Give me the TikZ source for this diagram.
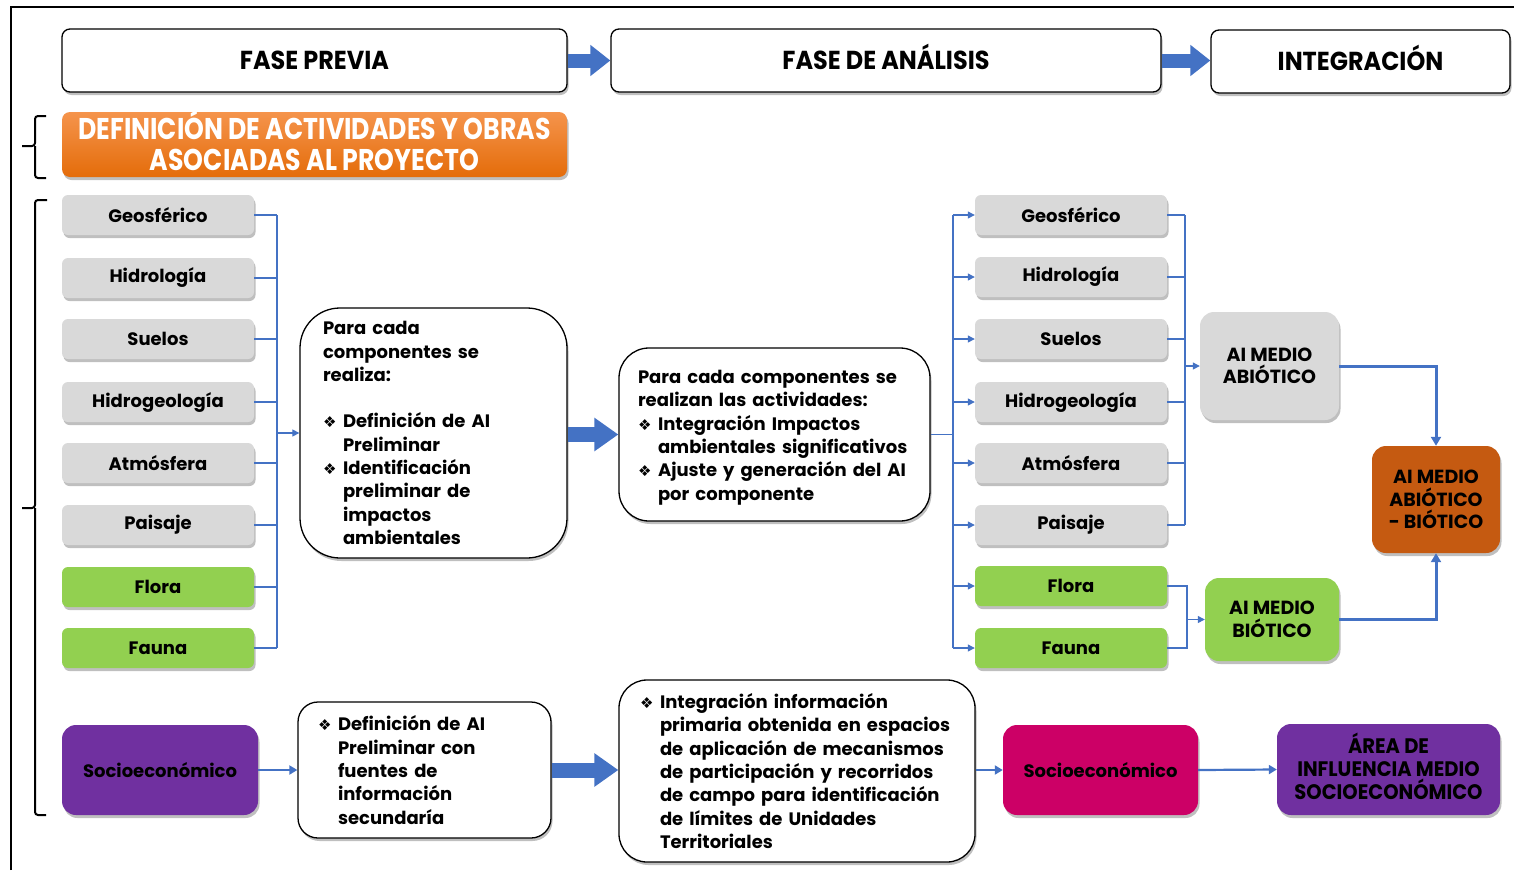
\documentclass[tikz,border=0pt]{standalone}
\usepackage{fontspec}
\setmainfont{Poppins}
\newfontfamily\hdrf[FakeStretch=0.92]{Poppins}
\newfontfamily\titf[FakeStretch=0.84]{Poppins}
\newfontfamily\areaf[FakeStretch=0.93]{Poppins}
\newfontfamily\symf{DejaVu Sans}
\usetikzlibrary{arrows.meta,shadows,calc}
\definecolor{cblue}{HTML}{4472C4}
\definecolor{cgray}{HTML}{D9D9D9}
\definecolor{cgreen}{HTML}{92D050}
\definecolor{cpurple}{HTML}{7030A0}
\definecolor{cmagenta}{HTML}{CC0066}
\definecolor{cdkorange}{HTML}{C55A11}
\definecolor{corT}{HTML}{F5944C}
\definecolor{corB}{HTML}{E46C0A}
\newcommand{\bul}{\makebox[20pt][l]{\symf\fontsize{15}{15}\selectfont ❖}}
\newcommand{\ind}{\hspace*{20pt}}
\tikzset{
  shdw/.style={drop shadow={shadow xshift=1.5pt, shadow yshift=-3pt, opacity=0.25, fill=black}},
  hdr/.style={draw=black, line width=1.3pt, fill=white, rounded corners=8pt, shdw,
    minimum height=63pt, inner sep=0pt, text height=18.5pt, text depth=0pt,
    font=\hdrf\bfseries\fontsize{26}{30}\selectfont},
  comp/.style={fill=cgray, rounded corners=6pt, shdw, minimum width=192pt, minimum height=40pt,
    inner sep=0pt, font=\bfseries\fontsize{18}{20}\selectfont},
  compg/.style={comp, fill=cgreen},
  txtbox/.style={draw=black, line width=1.3pt, fill=white, shdw, align=left, inner ysep=0pt,
    font=\bfseries\fontsize{18}{23.3}\selectfont},
  aibox/.style={rounded corners=14pt, shdw, inner sep=0pt, align=center,
    font=\bfseries\fontsize{19}{22.5}\selectfont},
  conn/.style={cblue, line width=1.2pt},
  conna/.style={conn, -{Triangle[length=7pt,width=7pt]}},
  connb/.style={cblue, line width=2.2pt, -{Triangle[length=8pt,width=9pt]}},
  connc/.style={cblue, line width=3pt, -{Triangle[length=9pt,width=10pt]}},
  bigarrow/.style={cblue, line width=15pt, -{Triangle[length=24pt,width=32pt]}},
  brace/.style={black, line width=2pt, rounded corners=3pt},
}
\begin{document}
\begin{tikzpicture}[x=1pt, y=-1pt]
\useasboundingbox (0,0) rectangle (1514,870);
% frame
\draw[black, line width=2pt] (11,870) -- (11,7) -- (1514,7);
% headers
\node[hdr, minimum width=505pt] (hp) at (314.5,60.5) {FASE PREVIA};
\node[hdr, minimum width=550pt] (ha) at (886,60.5) {FASE DE ANÁLISIS};
\node[hdr, minimum width=299pt] (hi) at (1360.5,61.5) {INTEGRACIÓN};
\draw[bigarrow, line width=14pt, -{Triangle[length=20pt,width=30pt]}] (hp.east) -- (hp.east -| ha.west);
\draw[bigarrow, line width=14pt, -{Triangle[length=20pt,width=30pt]}] (ha.east) -- (ha.east -| hi.west);
% orange title
\node[top color=corT, bottom color=corB, rounded corners=8pt, shdw, minimum width=505pt, minimum height=65pt,
  inner sep=0pt, align=center, text=white, text height=52pt, text depth=0pt,
  font=\titf\bfseries\fontsize{30}{31}\selectfont]
  (def) at (314.5,144.5) {DEFINICIÓN DE ACTIVIDADES Y OBRAS\\ASOCIADAS AL PROYECTO};
% braces
\draw[brace] (46,116) -| (35,146) -- (22,146);
\draw[brace] (35,146) |- (46,178);
\draw[brace] (47,200) -| (35,508) -- (22,508);
\draw[brace] (35,508) |- (46,815);
% left components
\node[comp]  (l1) at (158,215) {Geosférico};
\node[comp]  (l2) at (158,278) {Hidrología};
\node[comp]  (l3) at (158,339) {Suelos};
\node[comp]  (l4) at (158,402) {Hidrogeología};
\node[comp]  (l5) at (158,463) {Atmósfera};
\node[comp]  (l6) at (158,525) {Paisaje};
\node[compg] (l7) at (158,587) {Flora};
\node[compg] (l8) at (158,648) {Fauna};
\coordinate (busL) at (277,215);
\foreach \i in {1,...,8} {\draw[conn] (l\i.east) -- (l\i.east -| busL);}
\draw[conn] (l1.east -| busL) -- (l8.east -| busL);
% box 1
\node[txtbox, rounded corners=40pt, text width=221pt, inner xsep=23pt, minimum height=250pt] (b1) at (433.5,433)
 {Para cada\\componentes se\\realiza:\\[23.3pt]\bul Definición de AI\\\ind Preliminar\\\bul Identificación\\\ind preliminar de\\\ind impactos\\\ind ambientales};
\draw[conna] (busL |- b1.west) -- (b1.west);
% box 2
\node[txtbox, rounded corners=30pt, text width=273pt, inner xsep=19pt, minimum height=173pt] (b2) at (774.5,434.5)
 {\rule{0pt}{19.5pt}Para cada componentes se\\realizan las actividades:\\\bul Integración Impactos\\\ind ambientales significativos\\\bul Ajuste y generación del AI\\\ind por componente};
\draw[bigarrow] (b1.east |- b2.west) -- (b2.west);
% right components
\node[comp]  (r1) at (1071,215) {Geosférico};
\node[comp]  (r2) at (1071,277) {Hidrología};
\node[comp]  (r3) at (1071,339) {Suelos};
\node[comp]  (r4) at (1071,402) {Hidrogeología};
\node[comp]  (r5) at (1071,463) {Atmósfera};
\node[comp]  (r6) at (1071,525) {Paisaje};
\node[compg] (r7) at (1071,586) {Flora};
\node[compg] (r8) at (1071,648) {Fauna};
\coordinate (busR) at (953,215);
\draw[conn, line width=1.8pt] (b2.east) -- (b2.east -| busR);
\draw[conn] (r1.west -| busR) -- (r8.west -| busR);
\foreach \i in {1,...,8} {\draw[conna] (r\i.west -| busR) -- (r\i.west);}
% AI boxes
\node[aibox, fill=cgray, minimum width=139pt, minimum height=108pt] (abio) at (1269.5,366) {AI MEDIO\\ABIÓTICO};
\node[aibox, fill=cgreen, minimum width=134pt, minimum height=83pt] (bio) at (1272,619.5) {AI MEDIO\\BIÓTICO};
\node[aibox, fill=cdkorange, minimum width=128pt, minimum height=107pt] (comb) at (1436,499.5) {AI MEDIO\\ABIÓTICO\\- BIÓTICO};
\coordinate (busA) at (1185,215);
\foreach \i in {1,...,6} {\draw[conn] (r\i.east) -- (r\i.east -| busA);}
\draw[conn] (r1.east -| busA) -- (r6.east -| busA);
\draw[conna] (busA |- abio.west) -- (abio.west);
\coordinate (busB) at (1187,586);
\draw[conn] (r7.east) -- (r7.east -| busB) -- (r8.east -| busB) -- (r8.east);
\draw[conna] (busB |- bio.west) -- (bio.west);
\draw[connc] (abio.east) -| (comb.north);
\draw[connc] (bio.east) -| (comb.south);
% bottom row
\node[aibox, fill=cpurple, rounded corners=14pt, minimum width=196pt, minimum height=90pt,
  font=\bfseries\fontsize{18}{20}\selectfont] (socL) at (160,770) {Socioeconómico};
\node[txtbox, rounded corners=20pt, text width=213pt, inner xsep=20pt, minimum height=136pt] (b3) at (424.5,770)
 {\bul Definición de AI\\\ind Preliminar con\\\ind fuentes de\\\ind información\\\ind secundaría};
\draw[connb] (socL.east) -- (b3.west);
\node[txtbox, rounded corners=28pt, text width=314pt, inner xsep=21pt, minimum height=182pt] (b4) at (797,771)
 {\bul Integración información\\\ind primaria obtenida en espacios\\\ind de aplicación de mecanismos\\\ind de participación y recorridos\\\ind de campo para identificación\\\ind de límites de Unidades\\\ind Territoriales};
\draw[bigarrow] (b3.east |- socL.east) -- (b4.west |- socL.east);
\node[aibox, fill=cmagenta, rounded corners=14pt, minimum width=195pt, minimum height=90pt,
  font=\bfseries\fontsize{18}{20}\selectfont] (socR) at (1100.5,770) {Socioeconómico};
\draw[connb] (b4.east |- socR.west) -- (socR.west);
\node[aibox, fill=cpurple, rounded corners=14pt, minimum width=223pt, minimum height=91pt,
  text height=60.7pt, text depth=0pt,
  font=\areaf\bfseries\fontsize{21}{23}\selectfont] (area) at (1388.5,769.5) {ÁREA DE\\INFLUENCIA MEDIO\\SOCIOECONÓMICO};
\draw[connb] (socR.east) -- (area.west);
\end{tikzpicture}
\end{document}
